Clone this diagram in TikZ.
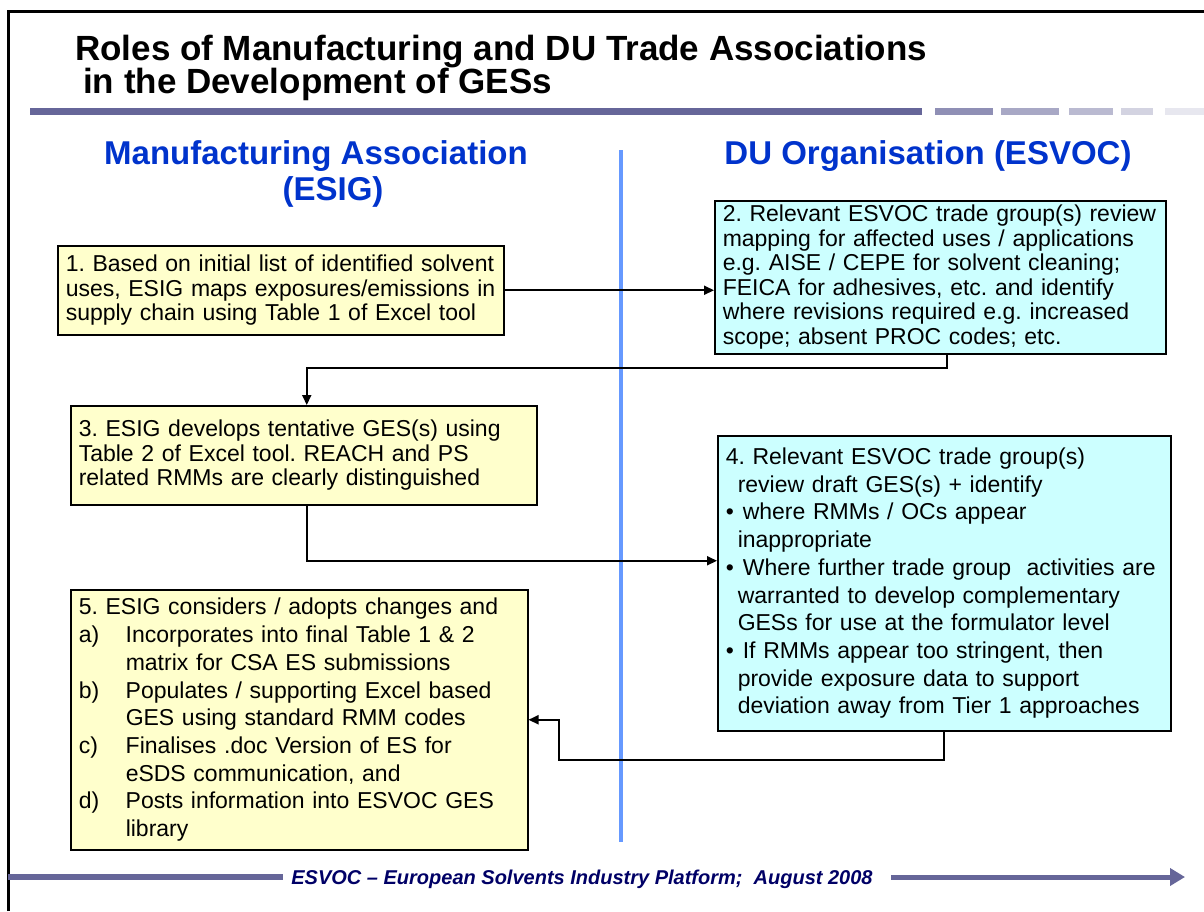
\documentclass[tikz,border=0pt]{standalone}
\usepackage{fontspec}
\usepackage{xcolor}
\usepackage{tikz}
\usetikzlibrary{arrows.meta}
\setmainfont{Liberation Sans}

\definecolor{boxyellow}{HTML}{FFFFCC}
\definecolor{boxcyan}{HTML}{CCFFFF}
\definecolor{headblue}{HTML}{0033CC}
\definecolor{rulecol}{HTML}{666699}
\definecolor{divblue}{HTML}{6699FF}
\definecolor{footnavy}{HTML}{000066}

\newcommand{\esitem}[1]{\makebox[47pt][l]{#1}}
\newcommand{\esgap}{\hspace*{47pt}}
\newcommand{\dugap}{\hspace*{12pt}}
\newcommand{\dubul}{\textbullet\hspace{9pt}}

\begin{document}
\frenchspacing
\begin{tikzpicture}[x=1pt, y=-1pt,
    ybox/.style={draw, line width=1.5pt, fill=boxyellow, anchor=north west, align=left,
        inner xsep=8pt, inner ysep=4pt, font=\fontsize{23}{24.5}\selectfont},
    cbox/.style={ybox, fill=boxcyan},
    loose/.style={font=\fontsize{23}{27.7}\selectfont},
    conn/.style={line width=2pt, -{Triangle[length=10pt,width=9pt]}},
    titletext/.style={anchor=base west, inner sep=0pt, font=\fontsize{35}{38}\selectfont\bfseries},
    head/.style={anchor=base, inner sep=0pt, text=headblue, font=\fontsize{33}{38}\selectfont\bfseries},
    foot/.style={anchor=base, text=footnavy, font=\fontsize{20}{24}\selectfont\bfseries\itshape}]
    \useasboundingbox (0,0) rectangle (1204,911);
    \draw[line width=3pt] (8,911) -- (8,11) -- (1204,11);

    \node[titletext] (title1) at (75,60) {Roles of Manufacturing and DU Trade Associations};
    \node[titletext] (title2) at (75,93) {\hspace*{8pt}in the Development of GESs};
    \draw[line width=7pt, rulecol] (30,111) -- (922,111);
    \foreach \xa/\xb/\pct in {935/993/73, 1001/1059/57, 1069/1113/45, 1121/1153/29, 1165/1204/16}
        \draw[line width=7pt, rulecol!\pct] (\xa,111) -- (\xb,111);

    \node[head] (esig1) at (316,164) {Manufacturing Association};
    \node[head] (esig2) at (333,200) {(ESIG)};
    \node[head] (esvoc) at (928,164) {DU Organisation (ESVOC)};
    \draw[line width=4pt, divblue] (621,150) -- (621,842);

    \node[ybox, text width=430pt, minimum height=89pt] (b1) at (57,245)
        {1. Based on initial list of identified solvent\\
         uses, ESIG maps exposures/emissions in\\
         supply chain using Table 1 of Excel tool};
    \node[cbox, text width=435pt, minimum height=153pt] (b2) at (714,200)
        {2. Relevant ESVOC trade group(s) review\\
         mapping for affected uses / applications\\
         e.g. AISE / CEPE for solvent cleaning;\\
         FEICA for adhesives, etc. and identify\\
         where revisions required e.g. increased\\
         scope; absent PROC codes; etc.};
    \node[ybox, text width=450pt, minimum height=99pt] (b3) at (70,405)
        {3. ESIG develops tentative GES(s) using\\
         Table 2 of Excel tool. REACH and PS\\
         related RMMs are clearly distinguished};
    \node[cbox, loose, text width=437pt, minimum height=295pt] (b4) at (717,435)
        {4. Relevant ESVOC trade group(s)\\
         \dugap review draft GES(s) + identify\\
         \dubul where RMMs / OCs appear\\
         \dugap inappropriate\\
         \dubul Where further trade group\ \ activities are\\
         \dugap warranted to develop complementary\\
         \dugap GESs for use at the formulator level\\
         \dubul If RMMs appear too stringent, then\\
         \dugap provide exposure data to support\\
         \dugap deviation away from Tier 1 approaches};
    \node[ybox, loose, text width=441pt, minimum height=260pt] (b5) at (70,589)
        {5. ESIG considers / adopts changes and\\
         \esitem{a)}Incorporates into final Table 1 \& 2\\
         \esgap matrix for CSA ES submissions\\
         \esitem{b)}Populates / supporting Excel based\\
         \esgap GES using standard RMM codes\\
         \esitem{c)}Finalises .doc Version of ES for\\
         \esgap eSDS communication, and\\
         \esitem{d)}Posts information into ESVOC GES\\
         \esgap library};

    \draw[conn] (b1.east) -- (b1.east -| b2.west);
    \draw[conn] ([xshift=6.5pt]b2.south) -- ++(0,13) -| ([xshift=3pt]b3.north);
    \draw[conn] ([xshift=3pt]b3.south) |- ([yshift=22.5pt]b4.west);
    \draw[conn] (b4.south) -- ++(0,28) -| ([xshift=30pt]b5.east) -- (b5.east);

    \node[foot] (footer) at (582,884) {ESVOC -- European Solvents Industry Platform;\ \ August 2008};
    \draw[line width=6pt, rulecol] (8,877) -- ([xshift=-5pt]footer.west |- 0,877);
    \draw[line width=5pt, rulecol, -{Triangle[length=15pt,width=17pt]}] ([xshift=15pt]footer.east |- 0,877) -- (1185,877);
\end{tikzpicture}
\end{document}
